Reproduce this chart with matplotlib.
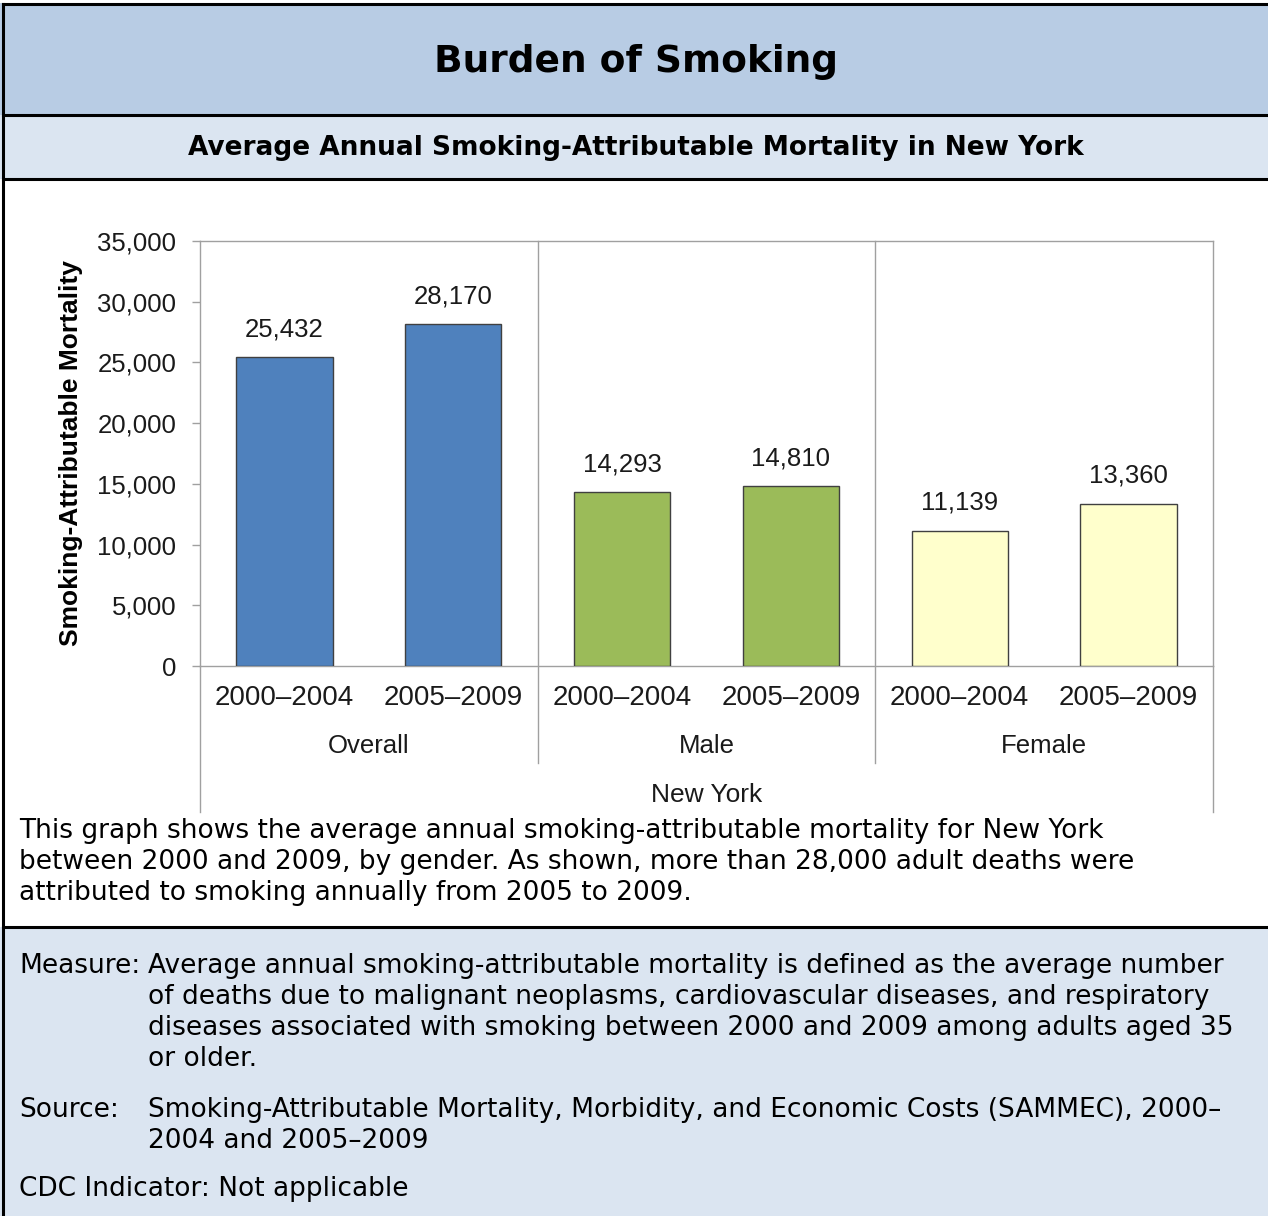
import matplotlib
matplotlib.use('Agg')
import matplotlib.pyplot as plt
from matplotlib.patches import Rectangle
from matplotlib.lines import Line2D

W, H = 1268, 1216

# datos
periods = ['2000\u20132004', '2005\u20132009'] * 3
groups = ['Overall', 'Male', 'Female']
deaths = [25432, 28170, 14293, 14810, 11139, 13360]
bar_colors = ['#4f81bd', '#4f81bd', '#9bbb59', '#9bbb59', '#ffffcc', '#ffffcc']
y_ticks = [0, 5000, 10000, 15000, 20000, 25000, 30000, 35000]

title = 'Burden of Smoking'
subtitle = 'Average Annual Smoking-Attributable Mortality in New York'
body_lines = [
    'This graph shows the average annual smoking-attributable mortality for New York',
    'between 2000 and 2009, by gender. As shown, more than 28,000 adult deaths were',
    'attributed to smoking annually from 2005 to 2009.',
]
measure_lines = [
    'Average annual smoking-attributable mortality is defined as the average number',
    'of deaths due to malignant neoplasms, cardiovascular diseases, and respiratory',
    'diseases associated with smoking between 2000 and 2009 among adults aged 35',
    'or older.',
]
source_lines = [
    'Smoking-Attributable Mortality, Morbidity, and Economic Costs (SAMMEC), 2000\u2013',
    '2004 and 2005\u20132009',
]

TXT = 19  # tamaño texto de las notas


def fx(x):
    return x / W


def fy(y):
    return 1 - y / H


fig = plt.figure(figsize=(W / 100, H / 100), dpi=100)
fig.patch.set_facecolor('white')

# bandas de fondo
fig.add_artist(Rectangle((0, fy(115)), 1, fy(3) - fy(115), transform=fig.transFigure,
                         facecolor='#b8cce4', edgecolor='none', zorder=0))
fig.add_artist(Rectangle((0, fy(179)), 1, fy(115) - fy(179), transform=fig.transFigure,
                         facecolor='#dbe5f1', edgecolor='none', zorder=0))
fig.add_artist(Rectangle((0, 0), 1, fy(927), transform=fig.transFigure,
                         facecolor='#dbe5f1', edgecolor='none', zorder=0))
# bordes negros
for y in [4, 115, 179, 927]:
    fig.add_artist(Line2D([fx(3), 1], [fy(y), fy(y)], transform=fig.transFigure,
                          color='black', linewidth=2.2))
fig.add_artist(Line2D([fx(3), fx(3)], [0, fy(4)], transform=fig.transFigure,
                      color='black', linewidth=2.2))

fig.text(fx(636), fy(62), title, ha='center', va='center', fontsize=27,
         fontweight='bold', family='DejaVu Sans')
fig.text(fx(636), fy(148), subtitle, ha='center', va='center', fontsize=19,
         fontweight='bold', family='DejaVu Sans')

for i, line in enumerate(body_lines):
    fig.text(fx(19), fy(838 + i * 31), line, ha='left', va='baseline',
             fontsize=TXT, family='DejaVu Sans')

fig.text(fx(19), fy(973), 'Measure:', ha='left', va='baseline', fontsize=TXT,
         family='DejaVu Sans')
for i, line in enumerate(measure_lines):
    fig.text(fx(148), fy(973 + i * 31), line, ha='left', va='baseline',
             fontsize=TXT, family='DejaVu Sans')
fig.text(fx(19), fy(1117), 'Source:', ha='left', va='baseline', fontsize=TXT,
         family='DejaVu Sans')
for i, line in enumerate(source_lines):
    fig.text(fx(148), fy(1117 + i * 31), line, ha='left', va='baseline',
             fontsize=TXT, family='DejaVu Sans')
fig.text(fx(19), fy(1196), 'CDC Indicator: Not applicable', ha='left', va='baseline',
         fontsize=TXT, family='DejaVu Sans')

# grafico
ax = fig.add_axes([fx(200), fy(666), fx(1213) - fx(200), fy(241) - fy(666)])
x = range(len(deaths))
ax.bar(x, deaths, width=0.57, color=bar_colors, edgecolor='#404040', linewidth=1, zorder=3)
for xi, v in zip(x, deaths):
    ax.text(xi, v + 1300, f'{v:,}', ha='center', va='bottom', fontsize=18.5,
            family='Liberation Sans', color='#1a1a1a')

ax.set_xlim(-0.5, 5.5)
ax.set_ylim(0, 35000)
ax.set_yticks(y_ticks)
ax.set_yticklabels([f'{t:,}' for t in y_ticks], family='Liberation Sans', fontsize=18.5,
                   color='#1a1a1a')
ax.tick_params(axis='y', length=6, width=1, color='#a0a0a0', pad=11)
ax.set_xticks([])
for s in ax.spines.values():
    s.set_color('#a0a0a0')
    s.set_linewidth(1)
ax.set_ylabel('Smoking-Attributable Mortality', family='Liberation Sans', fontsize=19,
              fontweight='bold', labelpad=10)

trans = ax.get_xaxis_transform()
low1 = -(763 - 666) / 425
low2 = -(812 - 666) / 425
ax.plot([-0.5, -0.5], [0, low2], transform=trans, color='#a0a0a0', lw=1, clip_on=False)
ax.plot([5.5, 5.5], [0, low2], transform=trans, color='#a0a0a0', lw=1, clip_on=False)
for sep in [1.5, 3.5]:
    ax.plot([sep, sep], [1, low1], transform=trans, color='#a0a0a0', lw=1, clip_on=False)

for xi, p in zip(x, periods):
    ax.text(xi, -(698 - 666) / 425, p, transform=trans, ha='center', va='center',
            fontsize=20, family='Liberation Sans', color='#1a1a1a')
for gi, g in enumerate(groups):
    ax.text(gi * 2 + 0.5, -(746 - 666) / 425, g, transform=trans, ha='center',
            va='center', fontsize=18.5, family='Liberation Sans', color='#1a1a1a')
ax.text(2.5, -(795 - 666) / 425, 'New York', transform=trans, ha='center', va='center',
        fontsize=19, family='Liberation Sans', color='#1a1a1a')

fig.savefig('out.png', dpi=100)
